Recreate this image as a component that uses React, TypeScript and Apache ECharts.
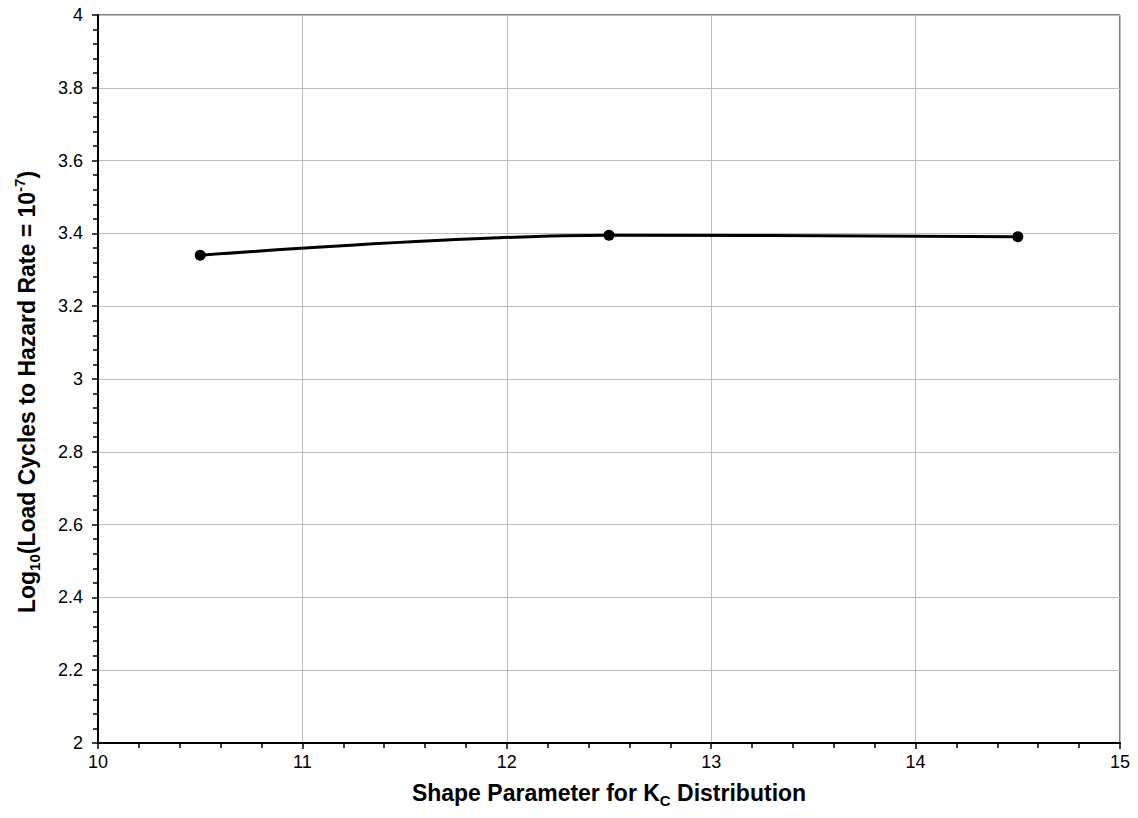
import React, { useEffect, useRef } from "react";
import * as echarts from "echarts";

// Shape parameter (x) and log10 load cycles (y) for each computed case
const shapeParams: number[] = [10.5, 12.5, 14.5];
const logCycles: number[] = [3.34, 3.395, 3.391];

const xTicks = { min: 10, max: 15, interval: 1 };
const yTicks = { min: 2, max: 4, interval: 0.2 };

const FONT = "'Liberation Sans', Arial, sans-serif";

export default function App() {
  const ref = useRef<HTMLDivElement>(null);

  useEffect(() => {
    if (!ref.current) return;
    const chart = echarts.init(ref.current, null, { renderer: "svg" });

    const points = shapeParams.map((x, i) => [x, logCycles[i]]);

    const titleStyle = (rich: Record<string, unknown>, padding: number[]) => ({
      fontFamily: FONT,
      fontSize: 23,
      fontWeight: "bold",
      color: "#000",
      lineHeight: 30,
      padding,
      rich,
    });

    const smallBold = {
      fontFamily: FONT,
      fontSize: 15,
      fontWeight: "bold",
      color: "#000",
      lineHeight: 15,
    };

    chart.setOption({
      animation: false,
      backgroundColor: "#ffffff",
      grid: {
        left: 98,
        top: 15,
        right: 18,
        bottom: 75,
        show: true,
        borderColor: "#000000",
        borderWidth: 1,
        backgroundColor: "transparent",
      },
      xAxis: {
        type: "value",
        min: xTicks.min,
        max: xTicks.max,
        interval: xTicks.interval,
        name: "Shape Parameter for K{sub|C} Distribution",
        nameLocation: "middle",
        nameGap: 35,
        nameTextStyle: titleStyle({ sub: { ...smallBold, verticalAlign: "bottom" } }, [0, 0, 0, 0]),
        axisLine: { show: true, onZero: false, lineStyle: { color: "#000", width: 2 } },
        axisTick: { show: true, inside: false, length: 6, lineStyle: { color: "#000", width: 1.5 } },
        minorTick: { show: true, splitNumber: 5, length: 5, lineStyle: { color: "#000", width: 1.5 } },
        axisLabel: {
          fontFamily: FONT,
          fontSize: 18,
          color: "#000",
          margin: 10,
        },
        splitLine: { show: true, lineStyle: { color: "#bdbdbd", width: 1 } },
      },
      yAxis: {
        type: "value",
        min: yTicks.min,
        max: yTicks.max,
        interval: yTicks.interval,
        name: "Log{sub|10}(Load Cycles to Hazard Rate = 10{sup|-7})",
        nameLocation: "middle",
        nameRotate: 90,
        nameGap: 56,
        nameTextStyle: titleStyle(
          {
            sub: { ...smallBold, verticalAlign: "bottom" },
            sup: { ...smallBold, verticalAlign: "top" },
          },
          [0, 26, 0, 0]
        ),
        axisLine: { show: true, onZero: false, lineStyle: { color: "#000", width: 2 } },
        axisTick: { show: true, inside: false, length: 6, lineStyle: { color: "#000", width: 1.5 } },
        minorTick: { show: true, splitNumber: 5, length: 5, lineStyle: { color: "#000", width: 1.5 } },
        axisLabel: {
          fontFamily: FONT,
          fontSize: 18,
          color: "#000",
          margin: 15,
        },
        splitLine: { show: true, lineStyle: { color: "#bdbdbd", width: 1 } },
      },
      series: [
        {
          type: "line",
          data: points,
          smooth: 0.35,
          symbol: "circle",
          symbolSize: 11,
          itemStyle: { color: "#000" },
          lineStyle: { color: "#000", width: 3 },
        },
      ],
    });

    return () => chart.dispose();
  }, []);

  return (
    <div
      ref={ref}
      style={{ position: "fixed", left: 0, top: 0, width: 1138, height: 818, background: "#fff" }}
    />
  );
}
